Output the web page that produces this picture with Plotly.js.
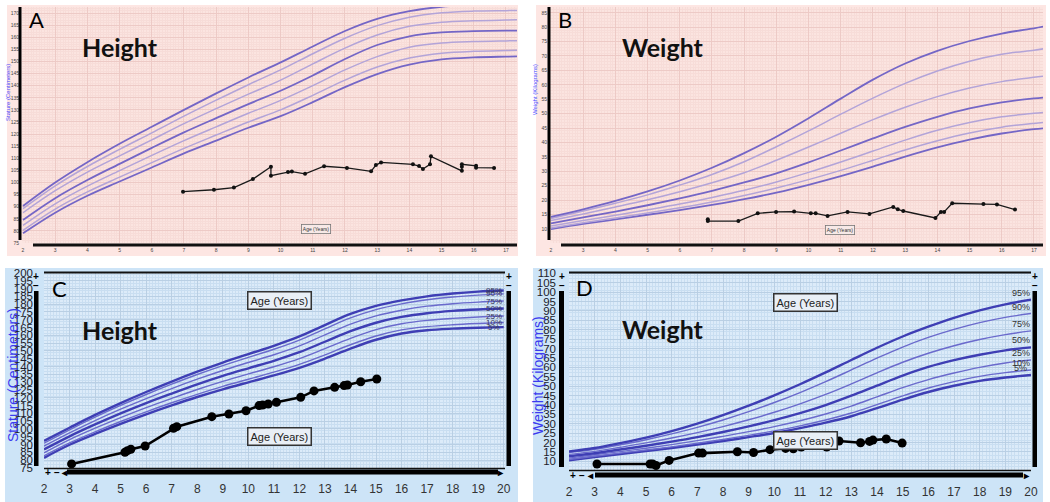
<!DOCTYPE html>
<html><head><meta charset="utf-8">
<script src="https://cdn.plot.ly/plotly-3.0.1.min.js"></script>
<style>html,body{margin:0;padding:0;background:#fff}#chart{width:1050px;height:502px}</style>
</head><body><div id="chart"></div>
<script>
// ---------- Panel A : stature, ages 2-17 ----------
const ageA = [2,3,4,5,6,7,8,9,10,11,12,13,14,15,16,17,17.4];
const A_p5  = [79,87.5,94.5,100.4,106.2,112,117.3,122.6,127.4,133.2,139.4,144.8,148.7,150.9,151.7,152,152.1];
const A_p10 = [80.2,89,96.1,102.2,108.2,114.1,119.6,125,130,136,142.3,147.7,151.4,153.4,154.2,154.5,154.6];
const A_p25 = [82.3,91.2,98.5,104.9,111.2,117.3,123,128.6,133.9,140,146.5,152,155.9,157.6,158.2,158.5,158.6];
const A_p50 = [84.5,93.5,101,107.7,114.3,120.7,126.6,132.4,137.9,144.2,151,156.8,160.4,162,162.5,162.7,162.7];
const A_p75 = [87.5,96.6,104.3,111,117.6,124.3,130.5,136.5,142.3,149,155.5,160.9,164.5,166.2,166.8,167.1,167.2];
const A_p90 = [89.2,98.6,106.6,113.7,120.5,127.4,134,140.4,146.5,153.2,159.6,164.8,168.3,170.1,170.8,171,171.1];
const A_p95 = [90.3,100,108.4,116,123,130,136.8,143.4,149.6,156.2,162.6,167.6,170.8,172.6,173.4,173.9,174];
const A_ptAge = [6.97,7.93,8.55,9.14,9.70,9.70,10.23,10.35,10.76,11.35,12.06,12.81,12.96,13.12,14.11,14.30,14.42,14.64,14.67,15.63,15.63,15.63,16.07,16.07,16.63];
const A_ptVal = [96.2,97.0,97.9,101.4,106.5,102.8,104.3,104.5,103.6,106.7,106.0,104.6,107.2,108.3,107.5,106.8,105.6,107.5,110.8,104.8,106.5,107.5,106.9,106.1,106.0];

// ---------- Panel B : weight, ages 2-17 ----------
const ageB = [2,3,4,5,6,7,8,9,10,11,12,13,14,15,16,17,17.3];
const B_p5  = [9.9,11.7,13.3,14.9,16.5,18.3,20.3,22.6,25.3,28.3,31.6,35.1,38.3,41,43.1,44.6,44.9];
const B_p10 = [10.3,12.1,13.8,15.5,17.3,19.3,21.6,24.2,27.1,30.3,33.8,37.4,40.6,43.3,45.3,46.6,46.9];
const B_p25 = [11,12.9,14.7,16.6,18.6,20.9,23.4,26.3,29.6,33.2,37,40.8,44.2,46.9,48.9,50.1,50.4];
const B_p50 = [11.9,14,16,18.2,20.6,23.2,26.1,29.3,33.1,37.2,41.4,45.4,48.9,51.8,53.9,55.3,55.6];
const B_p75 = [12.9,15.2,17.6,20.1,22.9,26,29.5,33.8,38.4,43.2,47.9,52.2,55.9,58.9,61.1,62.6,63];
const B_p90 = [13.6,16.2,18.9,21.8,25.2,28.9,33.3,38.5,44,49.8,55.4,60.5,64.8,68.2,70.6,72,72.5];
const B_p95 = [14.2,16.8,19.7,23,26.8,31.2,36.3,42,48.4,55.2,61.8,67.4,71.8,75.2,77.8,79.6,80.2];
const B_ptAge = [6.87,6.87,7.82,8.42,8.99,9.55,10.07,10.22,10.59,11.21,11.89,12.63,12.77,12.94,13.94,14.11,14.21,14.46,15.43,15.85,16.41];
const B_ptVal = [13.3,12.7,12.7,15.4,15.9,16.0,15.4,15.4,14.5,15.9,15.2,17.6,16.8,16.2,13.8,15.9,15.9,18.9,18.6,18.5,16.7];

// ---------- Panel C : stature, ages 2-20 ----------
const ageC = [2,3,4,5,6,7,8,9,10,11,12,13,14,15,16,17,18,19,20];
const C_p5  = [81.5,89.9,96.8,103.3,109.4,115.1,120.5,125.4,129.9,134.3,139.2,145.1,151.5,157.2,161.2,163.3,164.3,164.9,165.3];
const C_p10 = [82.8,91.1,98.2,104.8,111.0,116.8,122.2,127.3,131.9,136.4,141.4,147.5,154.0,159.6,163.5,165.6,166.8,167.6,168.2];
const C_p25 = [84.7,93.2,100.5,107.3,113.7,119.6,125.3,130.5,135.3,139.9,145.1,151.5,158.1,163.7,167.4,169.6,170.9,171.8,172.4];
const C_p50 = [86.9,95.3,102.9,110.0,116.6,122.7,128.6,134.0,138.9,143.7,149.2,155.9,162.7,168.1,171.8,174.2,175.7,176.6,177.2];
const C_p75 = [89.0,97.5,105.4,112.7,119.5,125.9,131.9,137.5,142.6,147.6,153.3,160.3,167.2,172.5,176.1,178.7,180.3,181.3,182.0];
const C_p90 = [90.9,99.5,107.6,115.1,122.1,128.7,134.9,140.6,145.9,151.1,157.0,164.2,171.2,176.5,180.2,182.8,184.6,185.8,186.6];
const C_p95 = [92.4,100.8,109.0,116.6,123.7,130.4,136.7,142.6,148.0,153.3,159.3,166.6,173.7,178.9,182.4,185.0,186.8,188.0,188.7];
const C_ptAge = [3.08,5.17,5.27,5.40,5.96,7.07,7.20,8.57,9.24,9.91,10.42,10.56,10.78,11.10,12.05,12.57,13.38,13.75,13.88,14.40,15.03];
const C_ptVal = [77.6,85.1,86.1,87.0,89.1,100.4,101.5,107.9,109.6,111.7,115.0,115.4,116.0,117.1,120.3,124.4,126.7,127.8,128.2,130.3,132.0];

// ---------- Panel D : weight, ages 2-20 ----------
const ageD = [2,3,4,5,6,7,8,9,10,11,12,13,14,15,16,17,18,19,20];
const D_p5  = [10.6,12.3,13.9,15.5,17.1,18.9,20.8,22.9,25.1,27.7,30.6,34.0,38.3,42.8,46.9,50.2,52.8,54.6,55.9];
const D_p10 = [11.0,12.7,14.4,16.0,17.7,19.6,21.6,23.8,26.2,28.9,32.0,35.7,40.2,44.8,49.0,52.4,55.2,57.2,58.6];
const D_p25 = [11.7,13.5,15.2,17.0,18.9,21.0,23.3,25.8,28.5,31.6,35.2,39.4,44.3,49.2,53.5,57.0,60.0,62.3,63.9];
const D_p50 = [12.7,14.3,16.3,18.3,20.5,22.9,25.6,28.6,31.9,35.6,39.9,44.9,50.3,55.6,60.2,63.8,66.7,69.0,70.6];
const D_p75 = [13.7,15.3,17.5,19.8,22.4,25.3,28.5,32.1,36.1,40.6,45.6,51.2,57.1,62.7,67.5,71.5,74.8,77.4,79.4];
const D_p90 = [14.7,16.4,18.8,21.5,24.6,28.1,32.0,36.4,41.3,46.6,52.4,58.6,64.9,70.8,75.9,80.2,83.8,86.6,88.6];
const D_p95 = [15.3,17.1,19.7,22.6,26.1,30.1,34.6,39.6,45.1,51.0,57.3,63.9,70.4,76.4,81.6,86.3,90.3,93.5,96.0];
const D_ptAge = [3.09,5.16,5.26,5.39,5.90,7.05,7.20,8.56,9.19,9.83,10.44,10.74,11.05,12.04,12.52,13.36,13.71,13.84,14.36,14.98];
const D_ptVal = [8.6,8.6,8.6,7.8,10.5,14.4,14.4,15.1,14.7,16.2,16.9,16.7,17.6,17.6,20.8,19.9,20.6,21.3,21.9,19.7];

const pctLabels = ['5%','10%','25%','50%','75%','90%','95%'];

// ---------- helpers ----------
const W = 1050, H = 502;
const px = x => x / W;
const py = y => 1 - y / H;
function rect(x0, y0, x1, y1, color, layer) {
  return {type:'rect', xref:'paper', yref:'paper', x0:px(x0), x1:px(x1), y0:py(y1), y1:py(y0),
          fillcolor:color, line:{width:0}, layer:layer || 'below'};
}
function hline(x0, x1, y, color, w) {
  return {type:'line', xref:'paper', yref:'paper', x0:px(x0), x1:px(x1), y0:py(y), y1:py(y),
          line:{color:color, width:w}, layer:'above'};
}
function txt(x, y, text, size, color, extra) {
  return Object.assign({xref:'paper', yref:'paper', x:px(x), y:py(y), text:text, showarrow:false,
    xanchor:'center', yanchor:'middle', font:{size:size, color:color, family:'Liberation Sans, Arial'}}, extra || {});
}

const traces = [];
function addCurves(age, sets, xa, ya, thickStyle, thinStyle) {
  sets.forEach((vals, i) => {
    const thick = (i === 0 || i === 3 || i === 6);
    traces.push({x:age, y:vals, xaxis:xa, yaxis:ya, type:'scatter', mode:'lines', hoverinfo:'skip',
      line: thick ? thickStyle : thinStyle, showlegend:false});
  });
}
const pinkThick = {color:'#7466c6', width:1.8, shape:'spline', smoothing:1};
const pinkThin  = {color:'#b3a4d8', width:1.5, shape:'spline', smoothing:1};
const blueThick = {color:'#3e3eb4', width:2.4, shape:'spline', smoothing:1};
const blueThin  = {color:'#6a6acc', width:1.4, shape:'spline', smoothing:1};

addCurves(ageA, [A_p5,A_p10,A_p25,A_p50,A_p75,A_p90,A_p95], 'x', 'y', pinkThick, pinkThin);
addCurves(ageB, [B_p5,B_p10,B_p25,B_p50,B_p75,B_p90,B_p95], 'x2', 'y2', pinkThick, pinkThin);
addCurves(ageC, [C_p5,C_p10,C_p25,C_p50,C_p75,C_p90,C_p95], 'x3', 'y3', blueThick, blueThin);
addCurves(ageD, [D_p5,D_p10,D_p25,D_p50,D_p75,D_p90,D_p95], 'x4', 'y4', blueThick, blueThin);

traces.push({x:A_ptAge, y:A_ptVal, xaxis:'x', yaxis:'y', mode:'lines+markers', line:{color:'#1a1a1a', width:1.3}, marker:{size:4, color:'#111'}, showlegend:false});
traces.push({x:B_ptAge, y:B_ptVal, xaxis:'x2', yaxis:'y2', mode:'lines+markers', line:{color:'#1a1a1a', width:1.3}, marker:{size:4, color:'#111'}, showlegend:false});
traces.push({x:C_ptAge, y:C_ptVal, xaxis:'x3', yaxis:'y3', mode:'lines+markers', line:{color:'#000', width:2.6}, marker:{size:9, color:'#000'}, showlegend:false});
traces.push({x:D_ptAge, y:D_ptVal, xaxis:'x4', yaxis:'y4', mode:'lines+markers', line:{color:'#000', width:2.6}, marker:{size:9, color:'#000'}, showlegend:false});

// ---------- axes ----------
function pinkX(dom, range, anchor) {
  return {domain:dom, range:range, anchor:anchor, tickmode:'linear', tick0:2, dtick:1,
    showgrid:true, gridcolor:'#edcac6', gridwidth:1,
    minor:{dtick:1/12, tick0:2, showgrid:true, gridcolor:'#f7dcd8', gridwidth:1},
    zeroline:false, showline:false, ticks:'', ticklabelstandoff:3,
    tickfont:{size:5, color:'#444', family:'Liberation Sans, Arial'}, fixedrange:true};
}
function pinkY(dom, range, anchor, t0) {
  return {domain:dom, range:range, anchor:anchor, tickmode:'linear', tick0:t0, dtick:5,
    showgrid:true, gridcolor:'#edcac6', gridwidth:1,
    minor:{dtick:1, tick0:t0, showgrid:true, gridcolor:'#f7dcd8', gridwidth:1},
    zeroline:false, showline:false, ticks:'', ticklabelstandoff:2,
    tickfont:{size:5, color:'#444', family:'Liberation Sans, Arial'}, fixedrange:true};
}
function blueX(dom, range, anchor, standoff) {
  return {domain:dom, range:range, anchor:anchor, tickmode:'linear', tick0:2, dtick:1,
    showgrid:true, gridcolor:'#b9cfe4', gridwidth:1,
    minor:{dtick:0.125, tick0:2, showgrid:true, gridcolor:'#c9def1', gridwidth:1},
    zeroline:false, showline:false, ticks:'', ticklabelstandoff:standoff,
    tickfont:{size:12, color:'#333', family:'Liberation Sans, Arial'}, fixedrange:true};
}
function blueY(dom, range, anchor, t0, minorStep, standoff) {
  return {domain:dom, range:range, anchor:anchor, tickmode:'linear', tick0:t0, dtick:5,
    showgrid:true, gridcolor:'#b9cfe4', gridwidth:1,
    minor:{dtick:minorStep, tick0:t0, showgrid:true, gridcolor:'#c9def1', gridwidth:1},
    zeroline:false, showline:false, ticks:'', ticklabelstandoff:standoff,
    tickfont:{size:11.5, color:'#1c1c2a', family:'Liberation Sans, Arial'}, fixedrange:true};
}

const layout = {
  width:W, height:H, autosize:false, margin:{l:0, r:0, t:0, b:0},
  paper_bgcolor:'#ffffff', plot_bgcolor:'rgba(0,0,0,0)', showlegend:false,
  xaxis:  pinkX([px(22), px(517)], [1.969, 17.342], 'y'),
  yaxis:  pinkY([py(243), py(7)], [75, 172.5], 'x', 75),
  xaxis2: pinkX([px(550), px(1043)], [1.969, 17.28], 'y2'),
  yaxis2: pinkY([py(243), py(7)], [5.1, 87.0], 'x2', 5),
  xaxis3: blueX([px(44), px(505)], [2.0, 20.05], 'y3', 12),
  yaxis3: blueY([py(468), py(272)], [75, 200.6], 'x3', 75, 2, 10),
  xaxis4: blueX([px(569), px(1031)], [2.0, 20.0], 'y4', 13),
  yaxis4: blueY([py(470), py(272)], [5.4, 110.7], 'x4', 5, 2, 12),
  shapes: [
    rect(7, 5, 518, 256, '#fde6e3'),
    rect(22, 7, 517, 243, '#fbe4e0'),
    rect(536, 5, 1046, 256, '#fde6e3'),
    rect(550, 7, 1043, 243, '#fbe4e0'),
    rect(5, 268, 518, 502, '#cde4f7'),
    rect(44, 272, 505, 468, '#dcebf9'),
    rect(533, 268, 1043, 502, '#cde4f7'),
    rect(569, 272, 1031, 470, '#dcebf9'),
    rect(18.5, 7, 21.5, 240, '#000', 'above'),
    rect(33, 243.5, 517, 246.5, '#111', 'above'),
    rect(547.5, 7, 550.5, 240, '#000', 'above'),
    rect(561, 243.5, 1043, 246.5, '#111', 'above'),
    hline(44, 505, 272.5, '#111', 2),
    hline(44, 505, 468.5, '#111', 1.5),
    rect(34, 291, 38.5, 466, '#000', 'above'),
    rect(506.5, 291, 511, 466, '#000', 'above'),
    rect(67, 469.5, 498, 474.5, '#000', 'above'),
    hline(569, 1031, 272.5, '#111', 2),
    hline(569, 1031, 470.5, '#111', 1.5),
    rect(559, 291, 564, 467, '#000', 'above'),
    rect(1032.5, 291, 1037, 467, '#000', 'above'),
    rect(595, 472.5, 1023, 477.5, '#000', 'above')
  ],
  annotations: []
};

const ann = layout.annotations;
const big = 'Lato, Open Sans, sans-serif';
ann.push(txt(36, 20, 'A', 22, '#000', {font:{size:22, color:'#000', family:big}}));
ann.push(txt(120, 47, '<b>Height</b>', 25, '#111', {font:{size:25, color:'#111', family:big}}));
ann.push(txt(565, 20, 'B', 22, '#000', {font:{size:22, color:'#000', family:big}}));
ann.push(txt(663, 47, '<b>Weight</b>', 25, '#111', {font:{size:25, color:'#111', family:big}}));
ann.push(txt(59, 288, 'C', 22, '#000', {font:{size:22, color:'#000', family:big}}));
ann.push(txt(120, 330, '<b>Height</b>', 25, '#111', {font:{size:25, color:'#111', family:big}}));
ann.push(txt(584, 287, 'D', 22, '#000', {font:{size:22, color:'#000', family:big}}));
ann.push(txt(663, 329, '<b>Weight</b>', 25, '#111', {font:{size:25, color:'#111', family:big}}));
ann.push(txt(8, 93, 'Stature (Centimeters)', 6, '#4a4aff', {textangle:-90}));
ann.push(txt(535, 90, 'Weight (Kilograms)', 6, '#4a4aff', {textangle:-90}));
ann.push(txt(13, 375, 'Stature (Centimeters)', 14, '#3a3aef', {textangle:-90}));
ann.push(txt(538, 376, 'Weight (Kilograms)', 14, '#3a3aef', {textangle:-90}));
const smallBox = {bgcolor:'#f7e9e7', bordercolor:'#777', borderwidth:0.8, borderpad:1};
ann.push(txt(316, 229, 'Age (Years)', 5, '#333', smallBox));
ann.push(txt(839.5, 230, 'Age (Years)', 5, '#333', smallBox));
const bigBox = {bgcolor:'#e9eff6', bordercolor:'#333', borderwidth:1.5, borderpad:2};
ann.push(txt(279, 300, 'Age (Years)', 11, '#222', bigBox));
ann.push(txt(279, 436, 'Age (Years)', 11, '#222', bigBox));
ann.push(txt(805, 302.5, 'Age (Years)', 11, '#222', bigBox));
ann.push(txt(805, 440, 'Age (Years)', 11, '#222', bigBox));
[[36, 276, '+'], [36, 285, '−'], [509, 276, '+'], [509, 285, '−'], [48, 472, '+'], [57, 472, '−'], [64, 472, '◂'], [500, 472, '▸'],
 [561.5, 276, '+'], [561.5, 285, '−'], [1035, 276, '+'], [1035, 285, '−'], [573, 475, '+'], [582, 475, '−'], [590, 475, '◂'], [1026, 475, '▸']]
  .forEach(s => ann.push(txt(s[0], s[1], '<b>' + s[2] + '</b>', 10, '#000')));
const Csets = [C_p5,C_p10,C_p25,C_p50,C_p75,C_p90,C_p95];
const Dsets = [D_p5,D_p10,D_p25,D_p50,D_p75,D_p90,D_p95];
Csets.forEach((s, i) => ann.push({xref:'x3', yref:'y3', x:19.6, y:s[s.length-1], text:pctLabels[i], showarrow:false,
  xanchor:'center', yanchor:'middle', font:{size:8, color:'#333355', family:'Liberation Sans, Arial'}}));
Dsets.forEach((s, i) => ann.push({xref:'x4', yref:'y4', x:19.6, y:s[s.length-1], text:pctLabels[i], showarrow:false,
  xanchor:'center', yanchor:'bottom', font:{size:9, color:'#333', family:'Liberation Sans, Arial'}}));

Plotly.newPlot('chart', traces, layout, {displayModeBar:false, staticPlot:true});
</script>
</body></html>
